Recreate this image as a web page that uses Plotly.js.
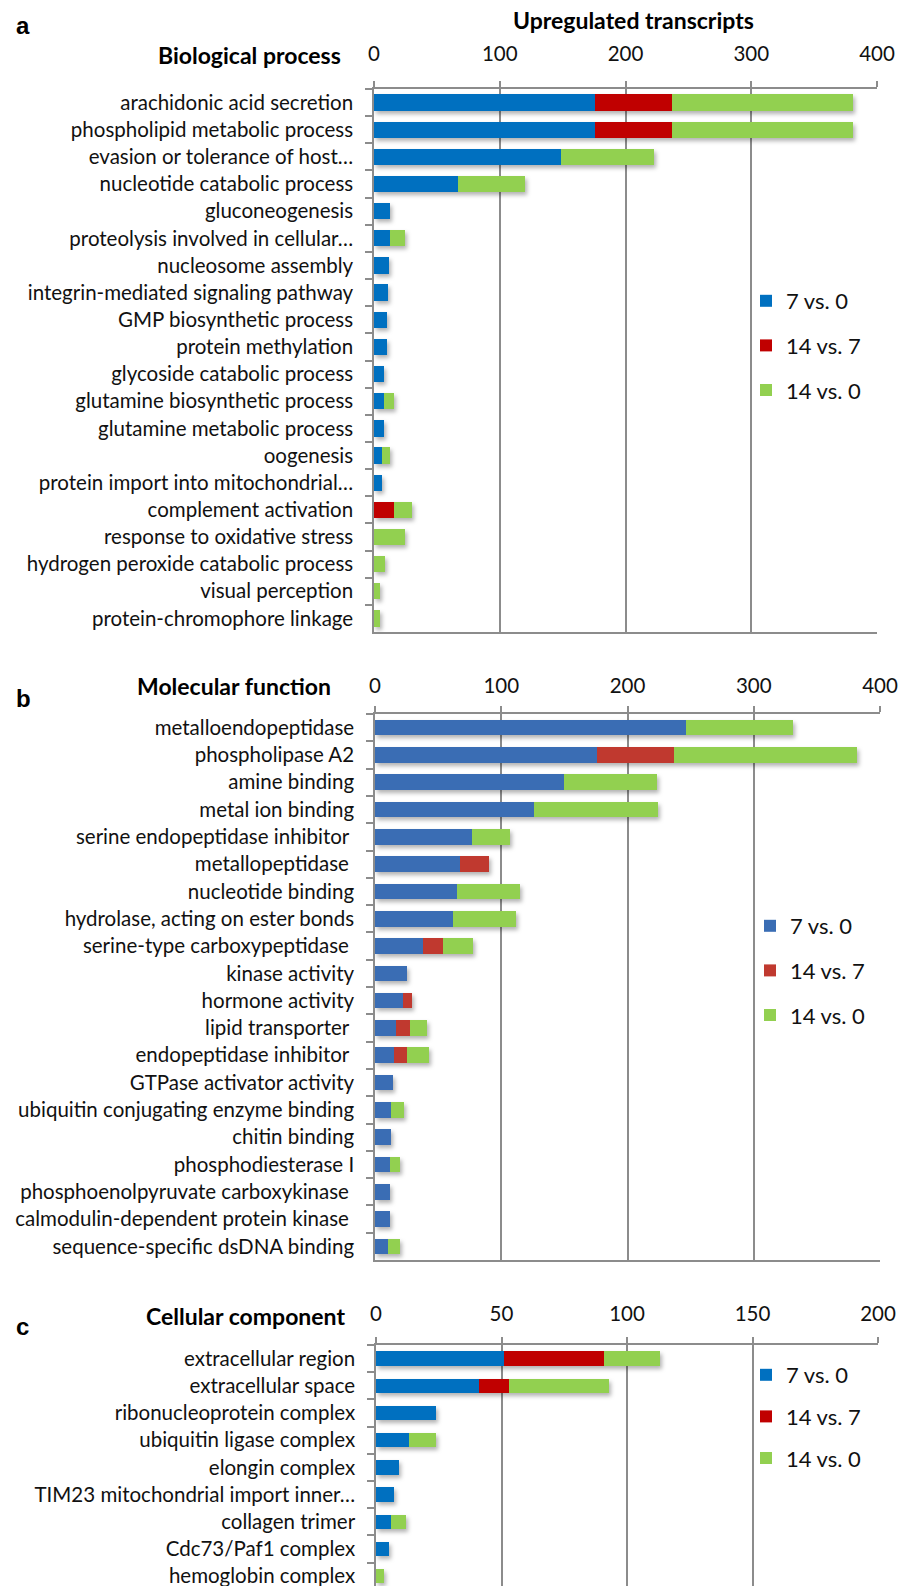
<!DOCTYPE html>
<html>
<head>
<meta charset="utf-8">
<script src="https://cdn.plot.ly/plotly-3.0.1.min.js"></script>
<style>
  html, body { margin: 0; padding: 0; background: #fff; }
  #chart { width: 899px; height: 1586px; }
  /* soft drop shadow under the bars */
  .barlayer { filter: drop-shadow(2px 3px 2px rgba(0,0,0,0.30)); }
</style>
</head>
<body>
<div id="chart"></div>
<script>
// ---- a: Biological process ----
const bpTerms = [
  "arachidonic acid secretion",
  "phospholipid metabolic process",
  "evasion or tolerance of host\u2026",
  "nucleotide catabolic process",
  "gluconeogenesis",
  "proteolysis involved in cellular\u2026",
  "nucleosome assembly",
  "integrin-mediated signaling pathway",
  "GMP biosynthetic process",
  "protein methylation",
  "glycoside catabolic process",
  "glutamine biosynthetic process",
  "glutamine metabolic process",
  "oogenesis",
  "protein import into mitochondrial\u2026",
  "complement activation",
  "response to oxidative stress",
  "hydrogen peroxide catabolic process",
  "visual perception",
  "protein-chromophore linkage"
];
const bp7v0  = [176, 176, 149, 67, 13, 13, 12, 11, 10, 10, 8, 8, 8, 6, 6, 0, 0, 0, 0, 0];
const bp14v7 = [61, 61, 0, 0, 0, 0, 0, 0, 0, 0, 0, 0, 0, 0, 0, 16, 0, 0, 0, 0];
const bp14v0 = [144, 144, 74, 53, 0, 12, 0, 0, 0, 0, 0, 8, 0, 7, 0, 14, 25, 9, 5, 5];

// ---- b: Molecular function ----
const mfTerms = [
  "metalloendopeptidase",
  "phospholipase A2",
  "amine binding",
  "metal ion binding",
  "serine endopeptidase inhibitor ",
  "metallopeptidase ",
  "nucleotide binding",
  "hydrolase, acting on ester bonds",
  "serine-type carboxypeptidase ",
  "kinase activity",
  "hormone activity",
  "lipid transporter ",
  "endopeptidase inhibitor ",
  "GTPase activator activity",
  "ubiquitin conjugating enzyme binding",
  "chitin binding",
  "phosphodiesterase I",
  "phosphoenolpyruvate carboxykinase ",
  "calmodulin-dependent protein kinase ",
  "sequence-specific dsDNA binding"
];
const mf7v0  = [246, 176, 150, 126, 77, 67, 65, 62, 38, 25, 22, 17, 15, 14, 13, 13, 12, 12, 12, 10];
const mf14v7 = [0, 61, 0, 0, 0, 23, 0, 0, 16, 0, 7, 11, 10, 0, 0, 0, 0, 0, 0, 0];
const mf14v0 = [85, 145, 73, 98, 30, 0, 50, 50, 24, 0, 0, 13, 18, 0, 10, 0, 8, 0, 0, 10];

// ---- c: Cellular component ----
const ccTerms = [
  "extracellular region",
  "extracellular space",
  "ribonucleoprotein complex",
  "ubiquitin ligase complex",
  "elongin complex",
  "TIM23 mitochondrial import inner\u2026",
  "collagen trimer",
  "Cdc73/Paf1 complex",
  "hemoglobin complex"
];
const cc7v0  = [51, 41, 24, 13, 9, 7, 6, 5, 0];
const cc14v7 = [40, 12, 0, 0, 0, 0, 0, 0, 0];
const cc14v0 = [22, 40, 0, 11, 0, 0, 6, 0, 3];

const seriesNames = ["7 vs. 0", "14 vs. 7", "14 vs. 0"];
const flatColors  = ["#0070c0", "#c00000", "#92d050"];
const mfColors    = ["#3a6db4", "#c0392f", "#92d050"];

// pixel helpers for a 899 x 1586 canvas
const W = 899, H = 1586;
const px = x => x / W;
const py = y => 1 - y / H;

const FONT = "Lato, 'Open Sans', sans-serif";
const GRID = "#8c8c8c";

function panelTraces(terms, sets, colors, xa, ya, legendId, width) {
  return sets.map((vals, i) => ({
    type: "bar",
    orientation: "h",
    y: terms,
    x: vals,
    name: seriesNames[i],
    legendgroup: legendId + i,
    legend: legendId,
    xaxis: xa,
    yaxis: ya,
    width: width,
    marker: { color: colors[i], line: { width: 0 } },
    hoverinfo: "x+y+name"
  }));
}

const data = [
  ...panelTraces(bpTerms, [bp7v0, bp14v7, bp14v0], flatColors, "x", "y", "legend", 0.6),
  ...panelTraces(mfTerms, [mf7v0, mf14v7, mf14v0], mfColors, "x2", "y2", "legend2", 0.57),
  ...panelTraces(ccTerms, [cc7v0, cc14v7, cc14v0], flatColors, "x3", "y3", "legend3", 0.53)
];

function xAxis(domain, range, dtick, anchor, standoff) {
  return {
    domain: domain, range: range, dtick: dtick, anchor: anchor,
    side: "top", ticks: "outside", ticklen: 6, tickcolor: GRID, tickwidth: 1.5,
    showgrid: true, gridcolor: GRID, gridwidth: 1.5,
    showline: true, linecolor: GRID, linewidth: 1.5, mirror: true,
    zeroline: false, fixedrange: true,
    ticklabelstandoff: standoff,
    tickfont: { family: FONT, size: 20.5, color: "#111" }
  };
}
function yAxis(domain, anchor, range) {
  const ax = {
    domain: domain, anchor: anchor, type: "category",
    ticks: "outside", tickson: "boundaries", ticklen: 7, tickcolor: GRID, tickwidth: 1.5,
    showgrid: false, showline: true, linecolor: GRID, linewidth: 1.5,
    zeroline: false, fixedrange: true,
    ticklabelstandoff: 15,
    tickfont: { family: FONT, size: 20.5, color: "#111" }
  };
  if (range) { ax.range = range; } else { ax.autorange = "reversed"; }
  return ax;
}
function legendAt(x, y, gap) {
  return {
    x: px(x), y: py(y), xanchor: "left", yanchor: "top",
    bgcolor: "rgba(0,0,0,0)", borderwidth: 0,
    font: { family: FONT, size: 22, color: "#111" },
    traceorder: "grouped", tracegroupgap: gap, itemwidth: 30,
    itemclick: false, itemdoubleclick: false
  };
}
function note(text, x, y, size, xanchor, family) {
  return {
    text: text, xref: "paper", yref: "paper", x: px(x), y: py(y),
    xanchor: xanchor, yanchor: "middle", showarrow: false,
    font: { family: family || FONT, size: size, color: "#000", weight: "bold" }
  };
}

const layout = {
  width: W, height: H,
  margin: { l: 0, r: 0, t: 0, b: 0 },
  paper_bgcolor: "#fff", plot_bgcolor: "#fff",
  barmode: "stack",
  showlegend: true,
  xaxis:  xAxis([px(374), px(877)], [0, 400], 100, "y", 12),
  yaxis:  yAxis([py(632), py(89)], "x"),
  xaxis2: xAxis([px(375), px(880)], [0, 400], 100, "y2", 5),
  yaxis2: yAxis([py(1260), py(714)], "x2"),
  xaxis3: xAxis([px(376), px(878)], [0, 200], 50, "y3", 8),
  yaxis3: yAxis([0, py(1345)], "x3", [8.36, -0.5]),
  legend:  legendAt(746, 280, 13),
  legend2: legendAt(750, 905, 13),
  legend3: legendAt(746, 1354, 10),
  annotations: [
    note("a", 14, 25, 24, "left", "'Liberation Sans', Arial, sans-serif"),
    note("b", 14, 698, 24, "left", "'Liberation Sans', Arial, sans-serif"),
    note("c", 14, 1326, 24, "left", "'Liberation Sans', Arial, sans-serif"),
    note("Upregulated transcripts", 633, 20, 23, "center"),
    note("Biological process", 343, 55, 23, "right"),
    note("Molecular function", 333, 686, 23, "right"),
    note("Cellular component", 347, 1316, 23, "right")
  ]
};

Plotly.newPlot("chart", data, layout, { displayModeBar: false });
</script>
</body>
</html>
